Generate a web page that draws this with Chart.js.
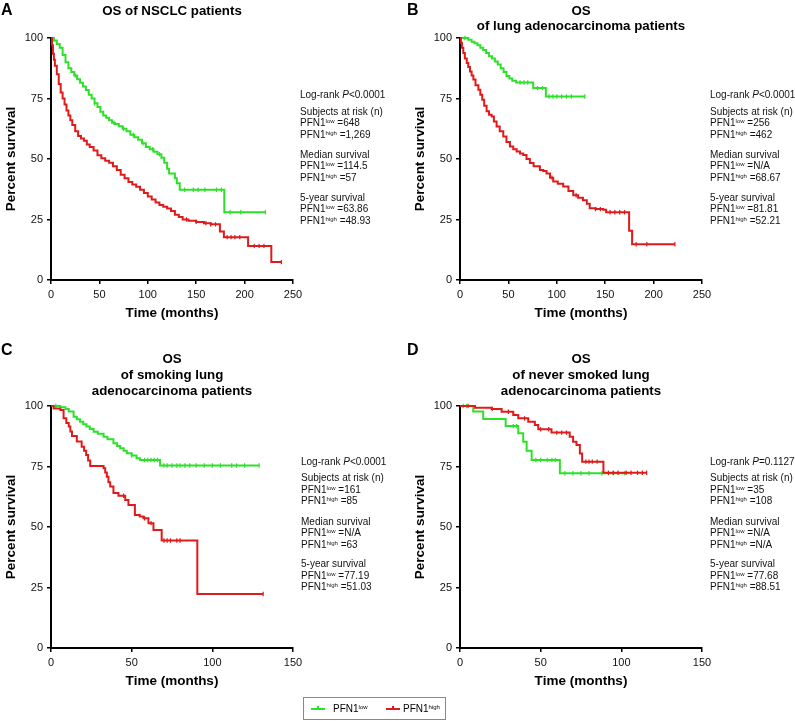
<!DOCTYPE html>
<html><head><meta charset="utf-8">
<script src="https://cdn.jsdelivr.net/npm/chart.js@4.4.1/dist/chart.umd.min.js"></script>
<style>
html,body{margin:0;padding:0;background:#fff;}
body{width:795px;height:721px;position:relative;overflow:hidden;font-family:"Liberation Sans",Arial,Helvetica,sans-serif;color:#000;}
.box{position:absolute;}
.t{position:absolute;white-space:nowrap;}
.sup{font-size:6px;position:relative;top:-3px;}
.leg{position:absolute;left:303px;top:697px;width:143px;height:23px;border:1px solid #888;box-sizing:border-box;font-size:10px;}
.li{position:absolute;height:2px;top:10px;}
.li::after{content:"";position:absolute;left:6px;top:-2px;width:1.5px;height:4px;background:inherit;}
</style></head><body>
<script>
// ---------------- DATA ----------------
const xTicksAB = [0, 50, 100, 150, 200, 250];
const xTicksCD = [0, 50, 100, 150];
const yTicks = [0, 25, 50, 75, 100];

// Panel A: OS of NSCLC patients
const aLowT = [0,3,6,9,12,15,18,21,24,27,30,33,36,39,42,45,48,51,54,57,60,63,66,70,74,78,82,86,90,94,98,102,106,110,114,117,120,122,128,130,133,179];
const aLowS = [100,99,97.5,96,93,90,87.5,86,84.5,83,81.5,80,78.5,76.5,75,73,71.5,69.5,68,67,66,65,64.5,63.5,62.5,61.5,60,59,58,56.5,55,54,53,52,50.5,48.5,46,44,42,40,37.3,28];
const aLowC = [25,45,65,75,85,95,105,112,138,147,152,159,171,176,185,196,221.5];
const aHighT = [0,1,2,3,4,6,8,10,12,14,16,18,20,22,25,28,31,34,37,40,44,48,52,56,60,64,68,72,76,80,84,88,92,96,100,104,108,112,116,120,124,128,132,136,142,150,158,165,174.5,178.6,203.6,227.6];
const aHighS = [100,97,93.5,91,88.5,85,81,77.5,75,72.5,70,68,66,64,61.5,59.5,58.5,57.5,56,55,53.5,51.5,50.3,49.3,48.5,47,45.5,43.5,42,40.5,39.5,38.5,37.3,36,34.5,33.3,32,31,30.3,29.5,28.5,27,26,25,24.5,24,23.5,23,20,17.7,14.1,7.4];
const aHighC = [140,150,160,165,170,182,186,190,195,210,215,220,238];

// Panel B: OS of lung adenocarcinoma patients
const bLowT = [0,8.6,12,15,18,21,24,27,30,33,36,39,42,45,48,51,54,58,75.6,88.7];
const bLowS = [100,99.3,98.5,97.8,97,96,95,93.8,92.5,91.5,90.3,89,87.5,86,84.3,83.3,82.3,81.6,79.3,75.8];
const bLowC = [5,62,66,70,80,85,92,96,100,105,110,115,129];
const bHighT = [0,1,2,3.4,5,7,8.5,10.3,12,13.8,16,19,21,23,25,27.5,30,32.7,35,37.8,41,44.7,48,51.6,55,58.5,62,65.3,68.7,72.2,76,82.5,86,89.4,93,96.3,101,106.6,112,117,122,127,131,134,140,148,151,174.7,177.8];
const bHighS = [100,98,96,93.8,91.5,89.7,88,86.2,84.5,82.8,80.5,78.6,76.5,74.5,72,69.7,68.3,67.6,65.5,63.4,61.5,59.3,57,55.2,54,53.1,52.3,51.7,50,48.3,47,45.5,45,44,42.3,40.7,39.8,38.6,36.8,35,34,33,31.5,29.7,29.3,29,28,20.4,14.8];
const bHighC = [95,120,140,145,155,160,165,170,182,193,222];

// Panel C: OS of smoking lung adenocarcinoma patients
const cLowT = [0,5.8,9,11,14,16,18,20,22,24,26.4,29,32.6,35,38.7,41,42.9,45,47,50,53,55.2,67.6];
const cLowS = [100,99.5,98.8,97.7,95.6,94.5,93.5,92.5,91.5,90.5,89.4,88.5,87.3,86.3,84.6,83.5,82.5,81.5,80.5,79.5,78.4,77.7,75.4];
const cLowC = [3,50,58,60,62,64,66,70,72,75,78,80,83,86,90,95,100,105,112,115,120,129];
const cHighT = [0,1.6,5.8,7.8,9.5,11,12,13,16,19,20.5,21.8,23,24.3,32.6,33.6,34.6,35.6,36.7,38.7,41.8,46,48,52,55,57.3,60.4,63.5,68.6,90.7];
const cHighS = [100,99,98.3,94.9,93,91.5,89.5,87.6,85.3,83.2,81.5,79.8,77.5,75.2,74.3,72.5,70.8,68.5,66.7,64,62.9,61.2,59.1,55,54.3,53.6,51.6,48.8,44.4,22.3];
const cHighC = [45,58,62,70,72,74,78,80,131.5];

// Panel D: OS of never smoked lung adenocarcinoma patients
const dLowT = [0,8.2,14.4,28.3,36.1,39.2,41.3,44.4,61.9];
const dLowS = [100,97.7,94.6,91.7,88.7,85.2,81.5,77.7,72.2];
const dLowC = [2,4,33,35,47,50,54,57,59,65,70,75,80,88,95,102];
const dHighT = [0,9.3,19.6,25.8,33,36.1,42.3,46.4,48.5,56.7,68,70.1,72.2,74.3,75.7,88.9];
const dHighS = [100,99.3,98.8,97.6,96.3,94.9,93.5,92.1,90.4,89,87.3,85.2,83.9,80.4,77,72.4];
const dHighC = [5,20,30,40,50,55,60,63,66,78,80,82,85,92,95,98,103,106,110,113,115.7];

// Annotation values
const logRankP = ['<0.0001', '<0.0001', '<0.0001', '=0.1127'];
const nLow = ['648', '256', '161', '35'];
const nHigh = ['1,269', '462', '85', '108'];
const medLow = ['114.5', 'N/A', 'N/A', 'N/A'];
const medHigh = ['57', '68.67', '63', 'N/A'];
const fiveLow = ['63.86', '81.81', '77.19', '77.68'];
const fiveHigh = ['48.93', '52.21', '51.03', '88.51'];
const panelLetters = ['A', 'B', 'C', 'D'];
const panelTitles = [
  ['OS of NSCLC patients'],
  ['OS', 'of lung adenocarcinoma patients'],
  ['OS', 'of smoking lung', 'adenocarcinoma patients'],
  ['OS', 'of never smoked lung', 'adenocarcinoma patients']
];
const seriesNames = ['low', 'high'];

// ---------------- LAYOUT / STYLE ----------------
const GREEN = '#2ee02a';
const RED = '#e01a1a';
const FONT = '"Liberation Sans", Arial, Helvetica, sans-serif';
Chart.defaults.font.family = FONT;

const panels = [
  {cx:0,   cy:0,   cw:320, ch:330, L:51,  T:38,  R:293, B:280, ytp:3,  xmax:250, xt:xTicksAB, low:[aLowT,aLowS,aLowC], high:[aHighT,aHighS,aHighC], ax:300, ay:94.3, titleY:[10], letX:1, letY:9},
  {cx:400, cy:0,   cw:320, ch:330, L:460, T:38,  R:702, B:280, ytp:12, xmax:250, xt:xTicksAB, low:[bLowT,bLowS,bLowC], high:[bHighT,bHighS,bHighC], ax:710, ay:94.3, titleY:[10.5,25.5], letX:407, letY:9},
  {cx:0,   cy:330, cw:320, ch:368, L:51,  T:406, R:293, B:648, ytp:3,  xmax:150, xt:xTicksCD, low:[cLowT,cLowS,cLowC], high:[cHighT,cHighS,cHighC], ax:301, ay:461, titleY:[358.5,374.5,390.3], letX:1, letY:349},
  {cx:400, cy:330, cw:320, ch:368, L:460, T:406, R:702, B:648, ytp:12, xmax:150, xt:xTicksCD, low:[dLowT,dLowS,dLowC], high:[dHighT,dHighS,dHighC], ax:710, ay:461, titleY:[358.5,374.5,390.3], letX:407, letY:349}
];
const annOffsets = [0, 16.7, 28.4, 39.7, 60, 71.4, 83, 102.7, 114, 125.7];

function km(t, s, c) {
  const pts = t.map((x, i) => ({x: x, y: s[i], c: 0}));
  c.forEach(x => {
    let y = s[0];
    for (let i = 0; i < t.length; i++) if (t[i] <= x) y = s[i];
    pts.push({x: x, y: y, c: 1});
  });
  pts.sort((a, b) => (a.x - b.x) || (a.c - b.c));
  return pts;
}

function addText(x, yc, html, size, extra) {
  const d = document.createElement('div');
  d.className = 't';
  const lh = Math.round(size * 1.3);
  d.style.left = x + 'px';
  d.style.top = (yc - lh / 2) + 'px';
  d.style.lineHeight = lh + 'px';
  d.style.fontSize = size + 'px';
  if (extra) Object.assign(d.style, extra);
  d.innerHTML = html;
  document.body.appendChild(d);
  return d;
}
function addCentered(xc, yc, text, size, bold) {
  const d = addText(0, yc, text, size, {fontWeight: bold ? 'bold' : 'normal', width: '400px', textAlign: 'center'});
  d.style.left = (xc - 200) + 'px';
}

function ds(arr, color) {
  return {
    data: km(arr[0], arr[1], arr[2]),
    borderColor: color, backgroundColor: color,
    borderWidth: 2, stepped: true, fill: false, tension: 0,
    pointStyle: 'line', pointRotation: 90,
    pointRadius: ctx => (ctx.raw && ctx.raw.c) ? 2.2 : 0,
    pointHoverRadius: 0, pointBorderColor: color, pointBorderWidth: 1.2,
    clip: false
  };
}

panels.forEach((p, idx) => {
  const box = document.createElement('div');
  box.className = 'box';
  box.style.left = p.cx + 'px'; box.style.top = p.cy + 'px';
  box.style.width = p.cw + 'px'; box.style.height = p.ch + 'px';
  const cv = document.createElement('canvas');
  box.appendChild(cv);
  document.body.appendChild(box);

  const xAxisH = p.cy + p.ch - p.B;
  const yAxisW = p.L - p.cx;
  new Chart(cv, {
    type: 'line',
    data: {datasets: [ds(p.high, RED), ds(p.low, GREEN)]},
    options: {
      animation: false, responsive: true, maintainAspectRatio: false, events: [],
      layout: {padding: {left: 0, right: p.cx + p.cw - p.R, top: p.T - p.cy, bottom: 0}},
      plugins: {legend: {display: false}, tooltip: {enabled: false}, title: {display: false}},
      scales: {
        x: {
          type: 'linear', min: 0, max: p.xmax,
          afterBuildTicks: s => { s.ticks = p.xt.map(v => ({value: v})); },
          ticks: {padding: 4, color: '#111', font: {size: 11}, autoSkip: false, maxRotation: 0},
          grid: {drawOnChartArea: false, drawTicks: true, tickLength: 4, color: '#000', lineWidth: 1.5},
          border: {display: true, color: '#000', width: 2},
          title: {display: true, text: 'Time (months)', color: '#000', font: {size: 13.5, weight: 'bold'}, padding: {top: 0, bottom: 9}},
          afterFit: s => { s.height = xAxisH; s.paddingLeft = 0; s.paddingRight = 0; }
        },
        y: {
          type: 'linear', min: 0, max: 100,
          afterBuildTicks: s => { s.ticks = yTicks.map(v => ({value: v})); },
          ticks: {padding: 4, color: '#111', font: {size: 11}},
          grid: {drawOnChartArea: false, drawTicks: true, tickLength: 4, color: '#000', lineWidth: 1.5},
          border: {display: true, color: '#000', width: 2},
          title: {display: true, text: 'Percent survival', color: '#000', font: {size: 13.5, weight: 'bold'}, padding: {top: p.ytp, bottom: 0}},
          afterFit: s => { s.width = yAxisW; s.paddingTop = 0; s.paddingBottom = 0; }
        }
      }
    }
  });

  // panel letter
  addText(p.letX, p.letY, panelLetters[idx], 16, {fontWeight: 'bold'});
  // title
  const xc = (p.L + p.R) / 2;
  panelTitles[idx].forEach((line, k) => addCentered(xc, p.titleY[k], line, 13.3, true));
  // annotations
  const sl = '<span class="sup">' + seriesNames[0] + '</span>';
  const sh = '<span class="sup">' + seriesNames[1] + '</span>';
  const lines = [
    'Log-rank <i>P</i>' + logRankP[idx],
    'Subjects at risk (n)',
    'PFN1' + sl + ' =' + nLow[idx],
    'PFN1' + sh + ' =' + nHigh[idx],
    'Median survival',
    'PFN1' + sl + ' =' + medLow[idx],
    'PFN1' + sh + ' =' + medHigh[idx],
    '5-year survival',
    'PFN1' + sl + ' =' + fiveLow[idx],
    'PFN1' + sh + ' =' + fiveHigh[idx]
  ];
  lines.forEach((l, k) => addText(p.ax, p.ay + annOffsets[k], l, 10, {color: '#111'}));
});

// legend
const leg = document.createElement('div');
leg.className = 'leg';
leg.innerHTML =
  '<span class="li" style="left:7px;width:14px;background:' + GREEN + '"></span>' +
  '<span class="t" style="left:29px;top:5px;line-height:12px">PFN1<span class="sup">' + seriesNames[0] + '</span></span>' +
  '<span class="li" style="left:82px;width:14px;background:' + RED + '"></span>' +
  '<span class="t" style="left:99px;top:5px;line-height:12px">PFN1<span class="sup">' + seriesNames[1] + '</span></span>';
document.body.appendChild(leg);
</script>
</body></html>
